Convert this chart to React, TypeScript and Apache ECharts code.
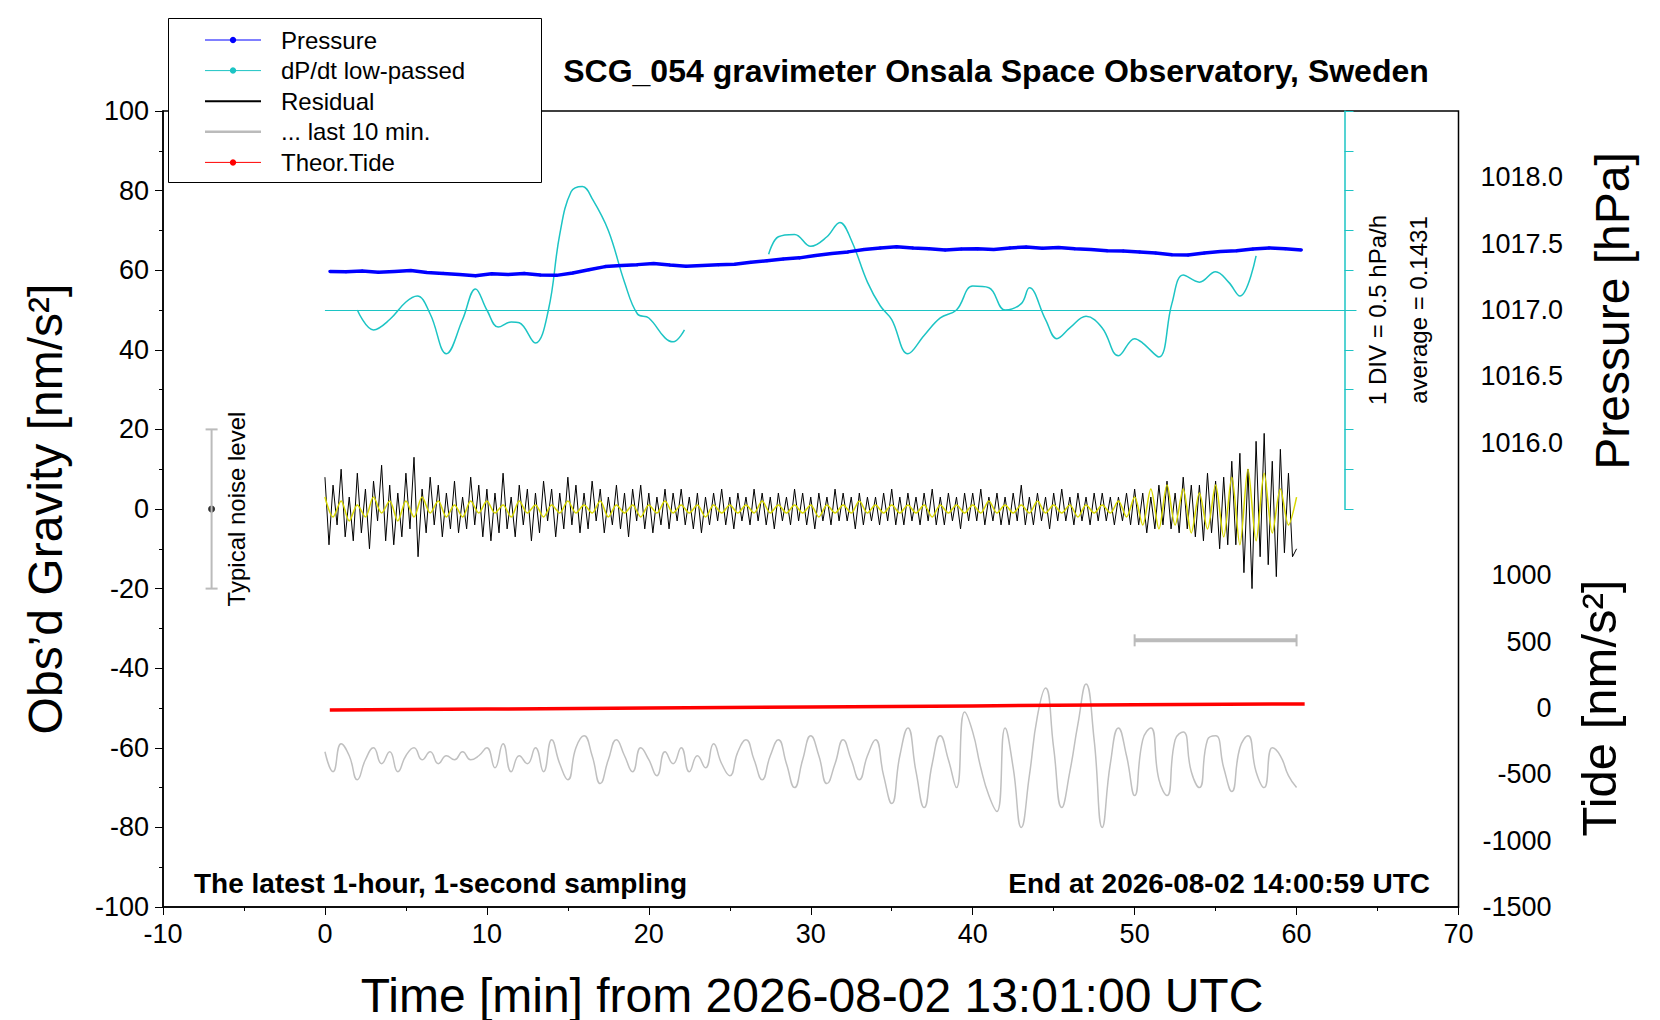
import { useEffect, useRef } from 'react';
import * as echarts from 'echarts';

// pressure [hPa], one sample per minute starting at 0.3 min
const pressureStart = 0.3;
const pressureValues = [
    1017.291, 1017.288, 1017.294, 1017.285, 1017.291, 1017.297, 1017.282, 1017.276, 1017.267, 1017.258,
    1017.273, 1017.267, 1017.276, 1017.264, 1017.261, 1017.279, 1017.303, 1017.327, 1017.336, 1017.342,
    1017.351, 1017.339, 1017.330, 1017.336, 1017.342, 1017.345, 1017.360, 1017.372, 1017.384, 1017.393,
    1017.411, 1017.426, 1017.438, 1017.456, 1017.468, 1017.477, 1017.468, 1017.462, 1017.453, 1017.459,
    1017.462, 1017.456, 1017.468, 1017.474, 1017.465, 1017.471, 1017.462, 1017.456, 1017.447, 1017.444,
    1017.438, 1017.429, 1017.417, 1017.414, 1017.429, 1017.441, 1017.447, 1017.459, 1017.468, 1017.462,
    1017.453,
];

// dP/dt low-passed, plotted on gravity scale (baseline 50)
const dpdtSeg1: [number, number][] = [
    [2.0, 50], [3, 45], [4, 47.6], [5, 52], [5.7, 53.5], [6.5, 49], [7.5, 39], [8.5, 47.6], [9.3, 55.3],
    [10, 50], [10.7, 45.7], [11.5, 47], [12, 46.8], [13, 41.7], [13.8, 50], [14.5, 69], [15.2, 79.7],
    [15.9, 81], [16.5, 78], [17.5, 70], [18.5, 57], [19.3, 49], [20, 48], [21, 43], [21.5, 42], [22.2, 45],
];
const dpdtSeg2: [number, number][] = [
    [27.4, 64], [28, 68.4], [29, 69], [30, 66], [31, 68.4], [31.8, 72], [32.5, 67.6], [33.5, 57], [34.3, 51],
    [35, 47.6], [36, 39], [37, 43.6], [38, 48], [39, 50], [40, 56], [41, 55.6], [42, 50], [43, 51.6],
    [43.5, 55.6], [44.5, 47.6], [45.2, 42.8], [46, 45.5], [47, 48.4], [48, 45.5], [49, 38.5], [50, 42.8],
    [50.5, 41.7], [51.5, 38.2], [52.3, 51.6], [53, 58.8], [54, 57], [55, 59.6], [55.8, 57], [56.5, 53.5],
    [57.5, 63.6],
];
const dpdtBaseline = 50;

// residual [nm/s^2], every 0.25 min
const residualStep = 0.25;
const residualValues = [
    8, -9, 6, -4, 10, -7, 3, -8, 9, -6, 5, -10, 7, -3, 11, -8, 6, -9, 4, -7, 9, -5, 13, -12,
    5, -6, 8, -4, 6, -7, 4, -5, 7, -6, 3, -5, 8, -4, 6, -7, 5, -8, 4, -6, 9, -5, 3, -7,
    6, -4, 5, -8, 4, -6, 7, -3, 5, -7, 4, -5, 8, -4, 6, -6, 4, -5, 7, -3, 5, -6, 3, -4,
    6, -5, 4, -7, 5, -3, 6, -5, 4, -6, 3, -4, 5, -5, 4, -3, 5, -4, 3, -5, 4, -6, 3, -4,
    4, -3, 5, -4, 3, -5, 4, -3, 3, -4, 5, -3, 4, -4, 3, -5, 4, -3, 3, -4, 5, -3, 4, -4,
    3, -5, 4, -3, 3, -4, 5, -3, 4, -3, 3, -5, 4, -4, 3, -3, 3, -4, 4, -3, 5, -4, 3, -4,
    4, -3, 3, -4, 4, -3, 5, -4, 3, -4, 4, -3, 3, -5, 4, -3, 4, -3, 5, -4, 3, -3, 4, -4,
    3, -4, 4, -3, 6, -4, 3, -4, 4, -3, 3, -5, 4, -3, 5, -3, 3, -4, 4, -3, 3, -4, 4, -3,
    4, -3, 3, -4, 3, -3, 4, -4, 5, -4, 4, -6, 3, -5, 6, -4, 7, -5, 4, -6, 8, -5, 6, -7,
    6, -8, 9, -6, 7, -10, 8, -9, 12, -9, 14, -16, 10, -20, 17, -12, 19, -14, 12, -17, 15, -11, 9, -12,
    -10,
];

// filtered residual (yellow), every 0.5 min
const filteredStep = 0.5;
const filteredValues = [
    3, -2, 2, -3, 1, -2, 3, -1, 2, -3, 2, -2, 3, -1, 2, -2, 1, -2, 2, -1,
    2, -1, 1, -2, 2, -1, 1, -2, 1, -1, 2, -1, 1, -1, 2, -2, 1, -1, 1, -2,
    1, -1, 2, -1, 1, -1, 1, -2, 1, -1, 1, -1, 1, -1, 2, -1, 1, -1, 1, -1,
    1, -2, 1, -1, 1, -1, 2, -1, 1, -1, 1, -1, 1, -1, 1, -2, 1, -1, 1, -1,
    1, -1, 2, -1, 1, -1, 1, -1, 2, -1, 1, -1, 1, -2, 1, -1, 1, -1, 2, -2,
    3, -4, 5, -5, 6, -4, 5, -6, 4, -5, 6, -7, 8, -9, 10, -8, 9, -6, 5, -4,
    3,
];

// last 10 min (gray), every 0.5 min, on gravity scale
const lastStep = 0.5;
const lastValues = [
    -61, -66, -59, -62, -68, -63, -60, -64, -61, -66, -62, -60, -63, -61, -64, -62, -63, -61, -63, -62,
    -60, -65, -59, -66, -62, -64, -60, -66, -58, -64, -68, -60, -57, -62, -69, -63, -58, -62, -66, -60,
    -63, -67, -61, -64, -60, -66, -62, -65, -59, -64, -67, -61, -58, -63, -68, -62, -58, -64, -70, -63,
    -57, -62, -69, -64, -58, -63, -68, -62, -58, -67, -74, -62, -55, -66, -75, -64, -57, -63, -70, -51,
    -56, -65, -72, -76, -55, -65, -80, -67, -52, -45, -60, -75, -66, -54, -44, -58, -80, -64, -55, -62,
    -72, -58, -55, -68, -72, -58, -56, -66, -70, -58, -57, -65, -71, -60, -57, -66, -70, -60, -62, -67,
    -70,
];

// theoretical tide [nm/s^2]
const tideTimes = [0.3, 10, 20, 30, 40, 50, 60.5];
const tideValues = [-15, -8, 0, 8, 16, 24, 31];

// annotations
const noiseBar: [number, number][] = [[-7, -20], [-7, 20]];
const windowBar: [number, number][] = [[50, -33], [60, -33]];

const FONT = '"Liberation Sans", Arial, sans-serif';
const TEAL = '#1cc4c4';

const legendItems = [
    { name: 'Pressure', color: '#0000ff', dot: true, width: 1 },
    { name: 'dP/dt low-passed', color: TEAL, dot: true, width: 1 },
    { name: 'Residual', color: '#000000', dot: false, width: 2 },
    { name: '... last 10 min.', color: '#bbbbbb', dot: false, width: 2.5 },
    { name: 'Theor.Tide', color: '#ff0000', dot: true, width: 1 },
];

const App = () => {
    const chartRef = useRef<HTMLDivElement>(null);

    useEffect(() => {
        if (!chartRef.current) return;
        const chart = echarts.init(chartRef.current, null, { renderer: 'svg' });

        const pressure = pressureValues.map((v, i) => [pressureStart + i, v]);
        const residual = residualValues.map((v, i) => [i * residualStep, v]);
        const filtered = filteredValues.map((v, i) => [i * filteredStep, v]);
        const last = lastValues.map((v, i) => [i * lastStep, v]);
        const tide = tideValues.map((v, i) => [tideTimes[i], v]);

        const legendGraphics: any[] = [
            {
                type: 'rect', left: 168, top: 18, z: 100,
                shape: { width: 373, height: 164 },
                style: { fill: '#fff', stroke: '#000', lineWidth: 1 },
            },
        ];
        legendItems.forEach((it, i) => {
            const y = 40 + i * 30.6;
            legendGraphics.push({
                type: 'line', z: 101,
                shape: { x1: 205, y1: y, x2: 261, y2: y },
                style: { stroke: it.color, lineWidth: it.width },
            });
            if (it.dot) {
                legendGraphics.push({
                    type: 'circle', z: 101,
                    shape: { cx: 233, cy: y, r: 3.2 },
                    style: { fill: it.color },
                });
            }
            legendGraphics.push({
                type: 'text', z: 101, x: 281, y,
                style: { text: it.name, fontSize: 24, fontFamily: FONT, fill: '#000', verticalAlign: 'middle' },
            });
        });

        const text = (t: string, x: number, y: number, size: number, extra: any = {}) => ({
            type: 'text', x, y, rotation: extra.rotation || 0,
            style: {
                text: t, fontSize: size, fontFamily: FONT, fill: '#000',
                align: extra.align || 'center', verticalAlign: 'middle', fontWeight: extra.bold ? 'bold' : 'normal',
            },
        });
        const R = Math.PI / 2;
        const tickFont = { fontSize: 27, color: '#000', fontFamily: FONT };

        const option: any = {
            animation: false,
            backgroundColor: '#fff',
            grid: [
                { left: 163, right: 201.5, top: 111, bottom: 113, show: true, borderColor: '#000', borderWidth: 1.5 },
                { left: 1344.5, width: 1, top: 111, height: 398 },
            ],
            xAxis: [
                {
                    type: 'value', min: -10, max: 70, interval: 10, gridIndex: 0,
                    axisLine: { onZero: false, lineStyle: { color: '#000', width: 1.5 } },
                    axisTick: { show: true, length: 8, lineStyle: { color: '#000' } },
                    minorTick: { show: true, splitNumber: 2, length: 4, lineStyle: { color: '#000' } },
                    splitLine: { show: false },
                    axisLabel: { ...tickFont, margin: 13 },
                },
                { type: 'value', gridIndex: 1, show: false, min: 0, max: 1 },
            ],
            yAxis: [
                {
                    type: 'value', min: -100, max: 100, interval: 20, gridIndex: 0,
                    axisLine: { show: true, onZero: false, lineStyle: { color: '#000', width: 1.5 } },
                    axisTick: { show: true, length: 8, lineStyle: { color: '#000' } },
                    minorTick: { show: true, splitNumber: 2, length: 4, lineStyle: { color: '#000' } },
                    splitLine: { show: false },
                    axisLabel: { ...tickFont, margin: 14 },
                },
                {
                    type: 'value', min: 1012.5, max: 1018.5, interval: 0.5, position: 'right', gridIndex: 0,
                    axisLine: { show: false }, axisTick: { show: false }, splitLine: { show: false },
                    axisLabel: {
                        ...tickFont, margin: 22,
                        formatter: (v: number) => (v >= 1015.99 && v <= 1018.01 ? v.toFixed(1) : ''),
                    },
                },
                {
                    type: 'value', min: -1500, max: 4500, interval: 500, position: 'right', gridIndex: 0,
                    axisLine: { show: false }, axisTick: { show: false }, splitLine: { show: false },
                    axisLabel: {
                        ...tickFont, margin: 93, align: 'right',
                        formatter: (v: number) => (v <= 1000 ? String(v) : ''),
                    },
                },
                {
                    type: 'value', min: 0, max: 10, interval: 1, gridIndex: 1, position: 'left',
                    axisLine: { show: true, lineStyle: { color: TEAL, width: 1.5 } },
                    axisTick: { show: true, inside: true, length: 9, lineStyle: { color: TEAL } },
                    axisLabel: { show: false }, splitLine: { show: false },
                },
            ],
            series: [
                {
                    type: 'line', data: last, symbol: 'none', smooth: 0.5,
                    lineStyle: { color: '#c0c0c0', width: 1.5 },
                },
                {
                    type: 'line', data: tide, symbol: 'none', yAxisIndex: 2,
                    lineStyle: { color: '#ff0000', width: 3.5 },
                },
                {
                    type: 'line', data: residual, symbol: 'none',
                    lineStyle: { color: '#000', width: 1 },
                },
                {
                    type: 'line', data: filtered, symbol: 'none', smooth: 0.3,
                    lineStyle: { color: '#d8d800', width: 1.5 },
                },
                {
                    type: 'line', data: dpdtSeg1, symbol: 'none', smooth: 0.4,
                    lineStyle: { color: TEAL, width: 1.5 },
                    markLine: {
                        silent: true, symbol: 'none', label: { show: false },
                        lineStyle: { color: TEAL, width: 1, type: 'solid' },
                        data: [[{ coord: [0, dpdtBaseline] }, { coord: [63.7, dpdtBaseline] }]],
                    },
                },
                {
                    type: 'line', data: dpdtSeg2, symbol: 'none', smooth: 0.4,
                    lineStyle: { color: TEAL, width: 1.5 },
                },
                {
                    type: 'line', data: pressure, symbol: 'circle', symbolSize: 3, showSymbol: true, yAxisIndex: 1,
                    lineStyle: { color: '#0000ff', width: 3.5 }, itemStyle: { color: '#0000ff' },
                },
                {
                    type: 'line', data: noiseBar, symbol: 'rect', symbolSize: [12, 2],
                    lineStyle: { color: '#bbbbbb', width: 2 }, itemStyle: { color: '#bbbbbb' },
                },
                {
                    type: 'scatter', data: [[-7, 0]], symbolSize: 7, itemStyle: { color: '#000' },
                },
                {
                    type: 'line', data: windowBar, symbol: 'rect', symbolSize: [2, 12],
                    lineStyle: { color: '#bbbbbb', width: 4 }, itemStyle: { color: '#bbbbbb' },
                },
            ],
            graphic: [
                ...legendGraphics,
                text('SCG_054 gravimeter Onsala Space Observatory, Sweden', 996, 71, 32, { bold: true }),
                text('The latest 1-hour, 1-second sampling', 194, 883, 28, { bold: true, align: 'left' }),
                text('End at 2026-08-02 14:00:59 UTC', 1430, 883, 28, { bold: true, align: 'right' }),
                text('Time [min] from 2026-08-02 13:01:00 UTC', 812, 995, 48),
                text('Obs\u2019d Gravity [nm/s\u00b2]', 45, 509, 48, { rotation: R }),
                text('Pressure [hPa]', 1612, 311, 48, { rotation: R }),
                text('Tide [nm/s\u00b2]', 1599, 708, 49, { rotation: R }),
                text('Typical noise level', 236, 509, 24, { rotation: R }),
                text('1 DIV = 0.5 hPa/h', 1377.5, 310, 24, { rotation: R }),
                text('average = 0.1431', 1418.5, 310, 24, { rotation: R }),
            ],
        };

        chart.setOption(option);
        return () => chart.dispose();
    }, []);

    return (
        <div
            ref={chartRef}
            style={{ position: 'absolute', left: 0, top: 0, width: 1660, height: 1020 }}
        />
    );
};

export default App;
